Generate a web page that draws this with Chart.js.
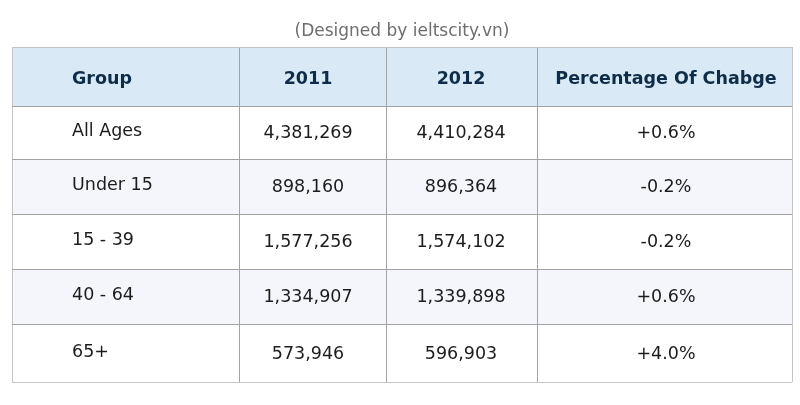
<!DOCTYPE html>
<html>
<head>
<meta charset="utf-8">
<script src="https://cdn.jsdelivr.net/npm/chart.js@4"></script>
<style>
  body { margin: 0; background: #fff; }
</style>
</head>
<body>
<canvas id="c" width="800" height="405"></canvas>
<script>
// ========== data ==========
var headers = ['Group', '2011', '2012', 'Percentage Of Chabge']
var groups = ['All Ages', 'Under 15', '15 - 39', '40 - 64', '65+']
var pop2011 = [4381269, 898160, 1577256, 1334907, 573946]
var pop2012 = [4410284, 896364, 1574102, 1339898, 596903]
var change = [0.6, -0.2, -0.2, 0.6, 4.0]

// ========== layout (scale units) ==========
var colEdges = [0, 227, 374, 525, 780]
var rowEdges = [0, 59, 112, 167, 222, 277, 335]
var colTextX = [60, 296, 449, 654]
var colAlign = ['left', 'center', 'center', 'center']
var rowFill = ['#d9eaf6', '#ffffff', '#f4f6fb', '#ffffff', '#f4f6fb', '#ffffff']

function fmt_num(v){ return v.toLocaleString('en-US') }
function fmt_pct(v){ return (v >= 0 ? '+' : '') + v.toFixed(1) + '%' }

// one scatter dataset per column, one point per row (row 0 = header)
var columns = [
    [headers[0]].concat(groups),
    [headers[1]].concat(pop2011.map(fmt_num)),
    [headers[2]].concat(pop2012.map(fmt_num)),
    [headers[3]].concat(change.map(fmt_pct))
]
var datasets = columns.map(function(col, ci){
    return {
        data: col.map(function(txt, ri){
            return {x: colTextX[ci], y: (rowEdges[ri] + rowEdges[ri+1]) / 2, text: txt}
        }),
        pointRadius: 0,
        align: colAlign[ci]
    }
})

// row backgrounds, drawn before the grid
var rowBands = {
    id: 'rowBands',
    beforeDraw: function(chart){
        var ctx = chart.ctx, x = chart.scales.x, y = chart.scales.y
        var l = x.getPixelForValue(colEdges[0]), r = x.getPixelForValue(colEdges[colEdges.length-1])
        ctx.save()
        for (var i = 0; i < rowEdges.length - 1; i++){
            var t = y.getPixelForValue(rowEdges[i]), b = y.getPixelForValue(rowEdges[i+1])
            ctx.fillStyle = rowFill[i]
            ctx.fillRect(l, t, r - l, b - t)
        }
        ctx.restore()
    }
}

// cell texts at the points' positions
var cellText = {
    id: 'cellText',
    afterDatasetsDraw: function(chart){
        var ctx = chart.ctx
        ctx.save()
        ctx.textBaseline = 'middle'
        chart.data.datasets.forEach(function(ds, di){
            var meta = chart.getDatasetMeta(di)
            ctx.textAlign = ds.align
            meta.data.forEach(function(pt, ri){
                var dy = 1
                if (ri === 0){
                    ctx.font = 'bold 17.5px "DejaVu Sans"'
                    ctx.fillStyle = '#0f2d49'
                    dy = 3
                } else {
                    ctx.font = '17.5px "DejaVu Sans"'
                    ctx.fillStyle = '#1c1c1c'
                    if (di === 0) dy = -1
                }
                ctx.fillText(ds.data[ri].text, pt.x, pt.y + dy)
            })
        })
        ctx.restore()
    }
}

function edge_color(edges){
    return function(c){
        var v = c.tick ? c.tick.value : null
        return (v === edges[0] || v === edges[edges.length-1]) ? '#c4c4c4' : '#a3a3a3'
    }
}

new Chart(document.getElementById('c').getContext('2d'), {
    type: 'scatter',
    data: {datasets: datasets},
    options: {
        responsive: false,
        animation: false,
        events: [],
        layout: {padding: {left: 12, right: 8, top: 0, bottom: 23}},
        plugins: {
            legend: {display: false},
            tooltip: {enabled: false},
            title: {
                display: true,
                text: '(Designed by ieltscity.vn)',
                color: '#6e6e6e',
                font: {family: '"DejaVu Sans"', size: 17, weight: 'normal', lineHeight: '20px'},
                padding: {top: 22, bottom: 5}
            }
        },
        scales: {
            x: {
                type: 'linear',
                min: colEdges[0],
                max: colEdges[colEdges.length-1],
                afterBuildTicks: function(s){ s.ticks = colEdges.map(function(v){ return {value: v} }) },
                ticks: {display: false},
                grid: {drawTicks: false, color: edge_color(colEdges)},
                border: {display: false}
            },
            y: {
                type: 'linear',
                reverse: true,
                min: rowEdges[0],
                max: rowEdges[rowEdges.length-1],
                afterBuildTicks: function(s){ s.ticks = rowEdges.map(function(v){ return {value: v} }) },
                ticks: {display: false},
                grid: {drawTicks: false, color: edge_color(rowEdges)},
                border: {display: false}
            }
        }
    },
    plugins: [rowBands, cellText]
})
</script>
</body>
</html>
